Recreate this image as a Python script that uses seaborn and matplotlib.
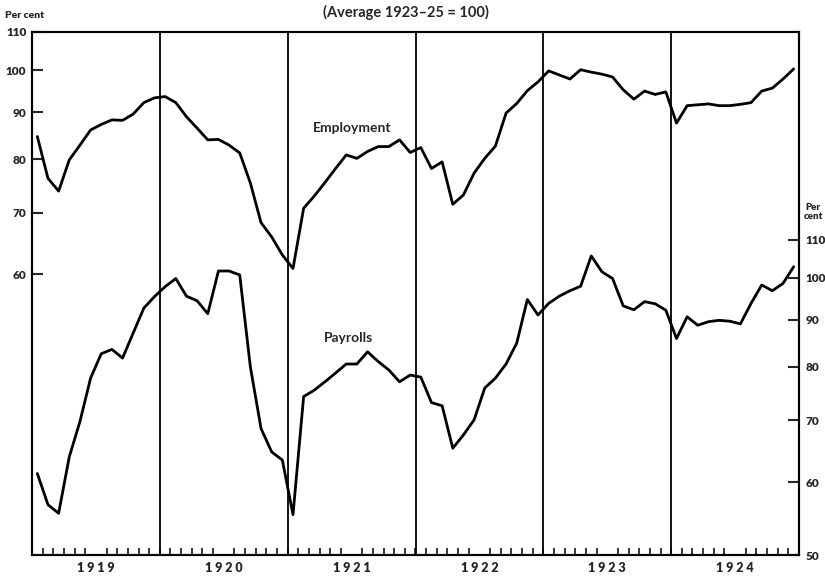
import numpy as np
import pandas as pd
import matplotlib
matplotlib.use("Agg")
import matplotlib.pyplot as plt
from matplotlib.ticker import FixedLocator, NullLocator, NullFormatter
import seaborn as sns

# Monthly index numbers, January 1919 - December 1924 (average 1923-25 = 100)
years = [1919, 1920, 1921, 1922, 1923, 1924]
year_labels = ["1 9 1 9", "1 9 2 0", "1 9 2 1", "1 9 2 2", "1 9 2 3", "1 9 2 4"]

employment = [
    84.7, 76.3, 73.9, 79.9, 82.9, 86.1, 87.3, 88.3, 88.2, 89.6, 92.2, 93.3,
    93.6, 92.2, 89.0, 86.5, 84.0, 84.1, 82.9, 81.3, 75.4, 68.3, 65.9, 63.0,
    60.9, 70.8, 73.0, 75.5, 78.2, 80.9, 80.2, 81.6, 82.6, 82.6, 84.0, 81.4,
    82.4, 78.2, 79.5, 71.5, 73.2, 77.3, 80.2, 82.7, 89.8, 92.0, 95.0, 97.1,
    99.8, 98.8, 97.8, 100.1, 99.5, 99.0, 98.3, 95.2, 93.0, 94.9, 94.1, 94.7,
    87.6, 91.5, 91.7, 91.9, 91.5, 91.5, 91.8, 92.2, 94.9, 95.6, 97.8, 100.3,
]

payrolls = [
    61.3, 56.7, 55.5, 63.9, 69.8, 77.8, 82.7, 83.6, 81.8, 87.1, 92.7, 95.4,
    97.8, 99.8, 95.5, 94.4, 91.4, 101.7, 101.7, 100.7, 80.0, 68.6, 64.7, 63.4,
    55.3, 74.3, 75.5, 77.1, 78.8, 80.6, 80.6, 83.1, 81.1, 79.4, 77.1, 78.4,
    78.0, 73.2, 72.6, 65.3, 67.5, 70.1, 75.9, 77.8, 80.6, 84.9, 94.7, 91.1,
    93.8, 95.5, 96.8, 97.9, 105.6, 101.5, 99.8, 93.2, 92.3, 94.2, 93.7, 92.2,
    85.9, 90.7, 88.8, 89.6, 89.9, 89.7, 89.1, 93.8, 98.2, 96.8, 98.6, 102.8,
]

left_ticks = [60, 70, 80, 90, 100, 110]
right_ticks = [50, 60, 70, 80, 90, 100, 110]

# Mid-month positions in decimal years
months = pd.date_range("1919-01-01", periods=len(employment), freq="MS")
t = months.year + (months.month - 0.5) / 12.0
df = pd.DataFrame({"t": t, "Employment": employment, "Payrolls": payrolls})

sns.set_style("ticks")
plt.rcParams["font.family"] = ["Lato", "DejaVu Sans"]
plt.rcParams["font.weight"] = "bold"

fig = plt.figure(figsize=(8.25, 5.76), dpi=100)
ax = fig.add_axes([32 / 825, 1 - 555 / 576, (799 - 32) / 825, (555 - 32) / 576])
ax2 = ax.twinx()

span = np.exp(523 / 400)  # both log scales share the same ratio per pixel
ax.set_yscale("log")
ax2.set_yscale("log")
ax.set_ylim(110 / span, 110)
ax2.set_ylim(50, 50 * span)
ax.set_xlim(years[0], years[-1] + 1)

sns.lineplot(data=df, x="t", y="Employment", ax=ax, color="black", linewidth=2.0)
sns.lineplot(data=df, x="t", y="Payrolls", ax=ax2, color="black", linewidth=2.0)

# Year dividers
for y in years[1:]:
    ax.axvline(y, color="black", linewidth=1.3)

for spine in list(ax.spines.values()) + list(ax2.spines.values()):
    spine.set_linewidth(1.5)
    spine.set_color("black")
    spine.set_visible(True)

# Left scale: employment
ax.yaxis.set_major_locator(FixedLocator(left_ticks))
ax.yaxis.set_minor_locator(NullLocator())
ax.yaxis.set_minor_formatter(NullFormatter())
ax.set_yticklabels([str(v) for v in left_ticks])
ax.tick_params(axis="y", which="major", direction="in", length=8, width=1.5,
               pad=4, labelsize=8.5, left=True, right=False)

# Right scale: payrolls
ax2.yaxis.set_major_locator(FixedLocator(right_ticks))
ax2.yaxis.set_minor_locator(NullLocator())
ax2.yaxis.set_minor_formatter(NullFormatter())
ax2.set_yticklabels([str(v) for v in right_ticks])
ax2.tick_params(axis="y", which="major", direction="in", length=8, width=1.5,
                pad=5, labelsize=8.5, right=True, left=False)

# Months as small inward ticks, years labelled at the centre of each span
ax.xaxis.set_minor_locator(FixedLocator(np.arange(years[0], years[-1] + 1 + 1e-9, 1 / 12)))
ax.xaxis.set_major_locator(FixedLocator([y + 0.5 for y in years]))
ax.set_xticklabels(year_labels)
ax.tick_params(axis="x", which="minor", direction="in", length=5, width=1.3, top=False)
ax.tick_params(axis="x", which="major", length=0, pad=5, labelsize=9, top=False)

ax.set_xlabel("")
ax.set_ylabel("")
ax2.set_ylabel("")

for lbl in ax.get_xticklabels() + ax.get_yticklabels() + ax2.get_yticklabels():
    lbl.set_fontweight("heavy")

# Series labels
ax.text(1921.2, 86.5, "Employment", fontsize=10, fontweight="bold", ha="left", va="center")
ax2.text(1921.28, 86.0, "Payrolls", fontsize=10, fontweight="bold", ha="left", va="center")

# Headings and unit labels
fig.text(406 / 825, 1 - 12 / 576, "(Average 1923\u201325 = 100)", fontsize=10.5,
         fontweight="bold", ha="center", va="center")
fig.text(5 / 825, 1 - 15 / 576, "Per cent", fontsize=7.5, fontweight="heavy",
         ha="left", va="center")
fig.text(813 / 825, 1 - 212 / 576, "Per\ncent", fontsize=7, fontweight="heavy",
         ha="center", va="center", linespacing=0.9)

fig.savefig("out.png", dpi=100)
